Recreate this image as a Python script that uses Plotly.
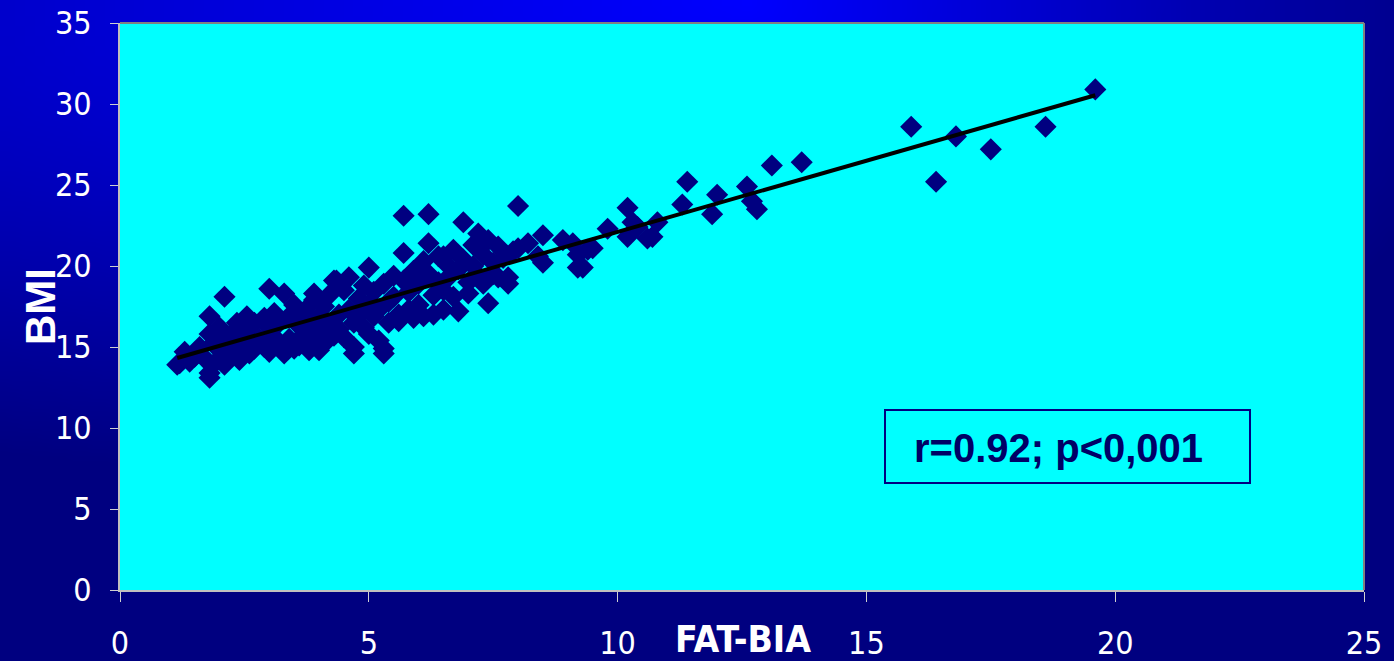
import base64, struct, zlib, math
import numpy as np
import plotly.graph_objects as go

# ---------------- data ----------------
fat_bia = [1.2, 1.3, 1.4, 1.5, 1.6, 1.7, 1.8, 1.8, 1.8, 1.9, 1.9, 2.0, 2.0, 2.1, 2.1, 2.2, 2.2, 2.3, 2.3, 2.4,
           2.4, 2.5, 2.5, 2.6, 2.6, 2.7, 2.7, 2.8, 2.9, 2.9, 3.0, 3.0, 3.0, 3.1, 3.1, 3.2, 3.2, 3.3, 3.3, 3.4,
           3.4, 3.5, 3.5, 3.6, 3.6, 3.7, 3.7, 3.8, 3.8, 3.9, 3.9, 4.0, 4.0, 4.1, 4.1, 4.2, 4.2, 4.3, 4.3, 4.4,
           4.4, 4.5, 4.5, 4.6, 4.6, 4.7, 4.7, 4.8, 4.8, 4.9, 4.9, 5.0, 5.0, 5.0, 5.1, 5.1, 5.2, 5.2, 5.3, 5.3,
           5.4, 5.4, 5.5, 5.5, 5.6, 5.6, 5.7, 5.7, 5.7, 5.8, 5.8, 5.9, 5.9, 6.0, 6.0, 6.1, 6.1, 6.2, 6.2, 6.2,
           6.3, 6.3, 6.4, 6.4, 6.5, 6.5, 6.6, 6.6, 6.7, 6.7, 6.8, 6.8, 6.9, 6.9, 7.0, 7.0, 7.1, 7.1, 7.2, 7.2,
           7.3, 7.3, 7.4, 7.4, 7.5, 7.5, 7.6, 7.7, 7.8, 7.9, 8.0, 8.0, 8.2, 8.4, 8.5, 8.5, 8.9, 9.1, 9.2, 9.2,
           9.3, 9.4, 9.5, 9.8, 10.2, 10.2, 10.3, 10.4, 10.6, 10.7, 10.8, 11.3, 11.4, 11.9, 12.0, 12.6, 12.7, 12.8,
           13.1, 13.7, 15.9, 16.4, 16.8, 17.5, 18.6, 19.6,
           2.35, 2.55, 3.9, 4.0, 4.35, 4.7, 5.3, 6.5, 7.6, 7.8, 1.15, 1.8]
bmi = [14.0, 14.7, 14.1, 14.4, 15.0, 14.3, 13.4, 15.8, 16.9, 14.0, 15.3, 14.8, 16.2, 18.1, 13.9, 15.6, 14.5, 16.0, 14.9, 15.4,
       14.2, 16.3, 15.1, 14.6, 15.8, 16.5, 14.9, 15.5, 16.8, 15.0, 18.6, 16.2, 14.7, 15.6, 17.1, 15.2, 16.5, 18.3, 14.6, 16.9,
       15.5, 17.6, 14.9, 16.3, 15.1, 17.2, 15.8, 16.6, 14.8, 17.9, 15.4, 16.9, 16.0, 17.5, 15.2, 18.2, 16.4, 19.1, 15.7, 17.0,
       16.1, 18.5, 15.6, 19.3, 17.3, 16.5, 15.0, 18.0, 17.0, 16.2, 18.8, 19.9, 17.6, 15.8, 18.4, 16.9, 17.3, 15.4, 14.9, 18.9,
       17.8, 16.5, 19.4, 18.1, 17.0, 16.6, 23.1, 20.8, 19.1, 18.4, 17.3, 19.7, 16.8, 18.9, 17.6, 20.3, 16.9, 23.2, 21.4, 19.5,
       18.2, 17.0, 20.6, 19.0, 18.5, 17.3, 20.0, 19.3, 18.1, 21.0, 17.2, 19.8, 22.7, 20.4, 19.0, 18.3, 21.3, 20.0, 19.4, 22.0,
       20.7, 18.9, 17.7, 21.6, 20.2, 19.5, 21.2, 20.5, 19.3, 20.9, 23.7, 21.1, 21.4, 20.6, 21.9, 20.2, 21.6, 21.4, 19.9, 20.7,
       19.9, 21.0, 21.1, 22.3, 23.6, 21.8, 22.7, 22.4, 21.7, 21.8, 22.7, 23.8, 25.2, 23.2, 24.4, 24.9, 24.0, 23.5,
       26.2, 26.4, 28.6, 25.2, 28.0, 27.2, 28.6, 30.9,
       16.5, 16.9, 18.3, 14.8, 19.1, 14.6, 14.6, 20.6, 19.3, 18.9, 13.9, 13.1]

x_ticks = [0, 5, 10, 15, 20, 25]
y_ticks = [0, 5, 10, 15, 20, 25, 30, 35]
x_title = "FAT-BIA"
y_title = "BMI"
stat_text = "r=0.92; p<0,001"

# ---------------- layout geometry ----------------
W, H = 1394, 661
ML, MR, MT, MB = 120, 30, 23, 71
PW, PH = W - ML - MR, H - MT - MB


def gradient_png(w, h):
    rows = b""
    for j in range(h):
        py = j * H / (h - 1)
        row = b"\x00"
        for i in range(w):
            px = i * W / (w - 1)
            dx = (px - 750) / (1900 if px < 750 else 750)
            dy = py / 500
            f = max(0.0, 1 - math.sqrt(dx * dx + dy * dy))
            b = int(0x80 + f * 0x7F)
            row += bytes((0, 0, b))
        rows += row

    def chunk(t, d):
        c = struct.pack(">I", len(d)) + t + d
        return c + struct.pack(">I", zlib.crc32(t + d) & 0xffffffff)
    png = b"\x89PNG\r\n\x1a\n" + chunk(b"IHDR", struct.pack(">IIBBBBB", w, h, 8, 2, 0, 0, 0))
    png += chunk(b"IDAT", zlib.compress(rows, 9)) + chunk(b"IEND", b"")
    return "data:image/png;base64," + base64.b64encode(png).decode()


xa = np.array(fat_bia)
ya = np.array(bmi)
slope, intercept = np.polyfit(xa, ya, 1)
fit_x = np.array([xa.min(), xa.max()])
fit_y = slope * fit_x + intercept

fig = go.Figure()
fig.add_trace(go.Scatter(x=fat_bia, y=bmi, mode="markers",
                         marker=dict(symbol="diamond", size=17, color="#000080", line=dict(width=0)),
                         showlegend=False, hoverinfo="x+y"))
fig.add_trace(go.Scatter(x=fit_x, y=fit_y, mode="lines", line=dict(color="black", width=4),
                         showlegend=False, hoverinfo="skip"))

tick_font = dict(family="Liberation Sans Narrow, DejaVu Sans Condensed, Arial Narrow, sans-serif",
                 size=32, color="white")
fig.update_xaxes(range=[0, 25], tickvals=x_ticks, ticks="outside", ticklen=10, tickwidth=1,
                 tickcolor="#D0D0D0", showline=True, linecolor="#C0C0C0", linewidth=2,
                 showgrid=False, zeroline=False, tickfont=tick_font, ticklabelstandoff=14,
                 automargin=False)
fig.update_yaxes(range=[0, 35], tickvals=y_ticks, ticks="outside", ticklen=8, tickwidth=1,
                 tickcolor="#D0D0D0", showline=True, linecolor="#C0C0C0", linewidth=2,
                 showgrid=False, zeroline=False, tickfont=tick_font, ticklabelstandoff=12,
                 automargin=False)

# cyan plot area (drawn above the gradient background image)
fig.add_shape(type="rect", xref="paper", yref="paper", x0=0, x1=1, y0=0, y1=1,
              fillcolor="#00FFFF", line=dict(width=0), layer="below")
fig.add_shape(type="line", xref="paper", yref="paper", x0=0, x1=1, y0=1, y1=1,
              line=dict(color="#808080", width=2))
fig.add_shape(type="line", xref="paper", yref="paper", x0=1, x1=1, y0=0, y1=1,
              line=dict(color="#808080", width=2))
# stats box
fig.add_shape(type="rect", xref="paper", yref="paper",
              x0=(885 - ML) / PW, x1=(1250 - ML) / PW,
              y0=(H - MB - 483) / PH, y1=(H - MB - 410) / PH,
              line=dict(color="#000080", width=2), fillcolor="rgba(0,0,0,0)")
fig.add_annotation(text=stat_text, xref="paper", yref="paper",
                   x=(1058 - ML) / PW, y=(H - MB - 448) / PH, showarrow=False,
                   xanchor="center", yanchor="middle",
                   font=dict(family="Liberation Sans, Arial, sans-serif", size=40, color="#000066", weight="bold"))
# axis titles
fig.add_annotation(text="<b>" + x_title + "</b>", xref="paper", yref="paper",
                   x=(743 - ML) / PW, y=(H - MB - 640) / PH, showarrow=False,
                   xanchor="center", yanchor="middle",
                   font=dict(family="Liberation Sans Narrow, DejaVu Sans Condensed, Arial Narrow, sans-serif",
                             size=37, color="white"))
fig.add_annotation(text="<b>" + y_title + "</b>", xref="paper", yref="paper",
                   x=(40 - ML) / PW, y=(H - MB - 307) / PH, showarrow=False, textangle=-90,
                   xanchor="center", yanchor="middle",
                   font=dict(family="Liberation Sans, Arial, sans-serif", size=42, color="white"))

fig.add_layout_image(source=gradient_png(140, 66), xref="paper", yref="paper",
                     x=-ML / PW, y=1 + MT / PH, sizex=W / PW, sizey=H / PH,
                     xanchor="left", yanchor="top", sizing="stretch", layer="below")

fig.update_layout(width=W, height=H, margin=dict(l=ML, r=MR, t=MT, b=MB, autoexpand=False),
                  paper_bgcolor="#000080", plot_bgcolor="#00FFFF")
fig.write_html("out.html", config={"displayModeBar": False},
               post_script="document.body.style.margin='0';")
